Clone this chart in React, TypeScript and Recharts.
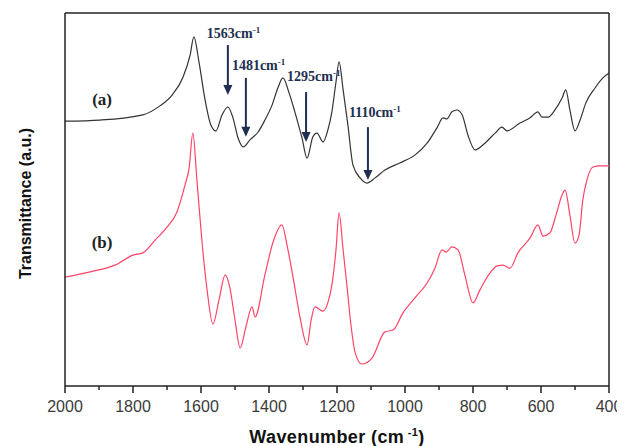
import React from 'react';
import { LineChart, Line, XAxis, YAxis, ReferenceLine, ReferenceDot, Label } from 'recharts';

// Curve (a) — black
const WN_A = [2000,1897,1771,1721,1685,1653,1632,1621,1606,1588,1571,1556,1538,1521,1506,1491,1476,1456,1432,1412,1391,1374,1359,1341,1324,1303,1288,1271,1259,1241,1227,1215,1203,1194,1182,1168,1153,1132,1112,1088,1059,1015,971,935,906,888,877,862,847,832,815,794,765,735,715,700,662,632,609,597,579,559,538,527,515,500,485,468,441,418,400];
const T_A = [71.0,71.3,72.7,75.1,78.0,82.8,88.7,93.6,86.9,76.7,70.0,68.4,72.7,74.8,71.9,66.5,64.1,66.0,68.1,71.3,75.3,79.9,82.6,78.6,73.5,66.5,61.1,66.8,67.8,65.4,68.6,73.5,81.5,86.9,79.4,70.0,59.2,55.8,54.4,55.8,57.9,59.8,61.9,65.1,69.2,71.9,71.6,73.5,74.0,72.7,67.3,63.3,65.1,67.8,69.4,68.4,70.5,71.9,73.5,72.1,72.1,74.0,77.2,79.4,74.0,68.4,71.3,75.9,79.9,82.6,83.9];

// Curve (b) — red
const WN_B = [2000,1926,1853,1800,1771,1735,1700,1671,1647,1635,1624,1612,1597,1582,1565,1547,1529,1515,1500,1485,1468,1450,1441,1412,1388,1362,1347,1329,1309,1288,1276,1265,1241,1227,1215,1203,1194,1182,1171,1159,1147,1127,1097,1059,1035,1006,971,935,912,891,879,862,844,824,800,780,750,729,712,691,668,632,609,594,574,556,538,529,515,500,488,477,465,447,427,400];
const T_B = [29.2,30.6,32.4,35.1,35.7,39.1,42.6,46.6,53.9,58.4,67.8,55.2,38.6,25.7,16.6,23.1,29.8,26.3,17.7,10.2,15.8,21.2,18.5,29.8,38.6,43.2,37.8,29.0,18.5,11.0,17.7,21.2,20.1,22.3,27.1,36.5,46.4,36.5,27.1,16.4,9.1,5.9,7.5,14.5,15.0,19.6,23.6,27.6,31.6,36.5,35.9,37.3,36.5,29.8,22.3,25.7,30.3,32.2,32.4,31.6,35.7,39.7,43.2,40.2,41.0,45.8,51.2,52.5,45.8,38.3,40.5,49.9,55.2,58.7,59.0,59.0];

const X_TICKS = [2000,1900,1800,1700,1600,1500,1400,1300,1200,1100,1000,900,800,700,600,500,400];

// Annotations (arrow x in wavenumber, arrow top / tip in a.u.)
const ANNOT_TEXT = ['1563', '1481', '1295', '1110'];
const ANNOT_WN = [1521, 1468, 1291, 1109];
const ANNOT_TOP = [91.4, 82.6, 78.8, 69.4];
const ANNOT_TIP = [78.0, 66.8, 65.4, 55.2];

const SERIES_LABELS = ['(a)', '(b)'];
const SERIES_LABEL_WN = [1891, 1891];
const SERIES_LABEL_T = [76.7, 38.6];

// style-only offsets for annotation text
const ANNOT_DX = [-21, -14, -19, -19];
const ANNOT_DY = [-7, -8, -11, -10];

const dataA = WN_A.map((wn, i) => ({ wn, t: T_A[i] }));
const dataB = WN_B.map((wn, i) => ({ wn, t: T_B[i] }));

const NAVY = '#1e2f50';
const FRAME = '#222';

const XTick = (props: any) => {
  const { x, y, payload } = props;
  const v = payload.value;
  const major = v % 200 === 0;
  return (
    <g>
      <line x1={x} y1={y} x2={x} y2={y + (major ? 7 : 4)} stroke={FRAME} strokeWidth={1.5} />
      {major && (
        <text x={x} y={y + 26} textAnchor="middle" fontFamily="'Liberation Sans', Arial, sans-serif" fontSize={16} fill="#3a3a3a">
          {v}
        </text>
      )}
    </g>
  );
};

const makeArrow = (i: number) => (p: any) => {
  const x = p.x1;
  const top = Math.min(p.y1, p.y2);
  const tip = Math.max(p.y1, p.y2);
  return (
    <g>
      <line x1={x} y1={top} x2={x} y2={tip - 8} stroke={NAVY} strokeWidth={2} />
      <polygon points={`${x - 4.5},${tip - 10} ${x + 4.5},${tip - 10} ${x},${tip}`} fill={NAVY} />
      <text x={x + ANNOT_DX[i]} y={top + ANNOT_DY[i]} fontFamily="'Liberation Serif', 'Times New Roman', serif" fontWeight="bold" fontSize={14} fill={NAVY}>
        {ANNOT_TEXT[i]}cm
        <tspan dy={-5} fontSize={9}>-1</tspan>
      </text>
    </g>
  );
};

const makeSeriesLabel = (i: number) => (p: any) => (
  <text x={p.cx} y={p.cy} textAnchor="middle" dominantBaseline="central" fontFamily="'Liberation Serif', 'Times New Roman', serif" fontWeight="bold" fontSize={17} fill="#222">
    {SERIES_LABELS[i]}
  </text>
);

const XTitle = (props: any) => {
  const vb = props.viewBox || {};
  const cx = vb.x + vb.width / 2;
  return (
    <text x={cx} y={vb.y + 57} textAnchor="middle" fontFamily="'Liberation Sans', Arial, sans-serif" fontWeight="bold" fontSize={18} fill="#111" letterSpacing={0.4}>
      Wavenumber (cm
      <tspan dy={-7} fontSize={11}> -1</tspan>
      <tspan dy={7} fontSize={18}>)</tspan>
    </text>
  );
};

const YTitle = (props: any) => {
  const vb = props.viewBox || {};
  const cx = 17;
  const cy = vb.y + vb.height / 2 + 4;
  return (
    <text x={cx} y={cy} transform={`rotate(-90, ${cx}, ${cy})`} textAnchor="middle" dominantBaseline="central" fontFamily="'Liberation Sans', Arial, sans-serif" fontWeight="bold" fontSize={16} fill="#111">
      Transmittance (a.u.)
    </text>
  );
};

export default function App() {
  return (
    <LineChart width={617} height={440} margin={{ top: 5, right: 16, bottom: 0, left: 7 }}>
      <XAxis
        dataKey="wn"
        type="number"
        domain={[400, 2000]}
        reversed
        ticks={X_TICKS}
        interval={0}
        tick={<XTick />}
        tickLine={false}
        tickSize={0}
        tickMargin={0}
        height={62}
        axisLine={{ stroke: FRAME, strokeWidth: 1.5 }}
        allowDataOverflow
      >
        <Label content={<XTitle />} />
      </XAxis>
      <YAxis
        type="number"
        domain={[0, 100]}
        tick={false}
        tickLine={false}
        width={50}
        axisLine={{ stroke: FRAME, strokeWidth: 1.5 }}
        allowDataOverflow
      >
        <Label content={<YTitle />} />
      </YAxis>
      <ReferenceLine y={100} stroke={FRAME} strokeWidth={1.5} />
      <ReferenceLine x={400} stroke={FRAME} strokeWidth={1.5} />
      <Line data={dataA} dataKey="t" type="monotone" stroke="#333" strokeWidth={1.2} dot={false} isAnimationActive={false} />
      <Line data={dataB} dataKey="t" type="monotone" stroke="#ff4466" strokeWidth={1.2} dot={false} isAnimationActive={false} />
      {ANNOT_WN.map((wn, i) => (
        <ReferenceLine
          key={'ar' + i}
          segment={[{ x: wn, y: ANNOT_TOP[i] }, { x: wn, y: ANNOT_TIP[i] }]}
          shape={makeArrow(i)}
        />
      ))}
      {SERIES_LABELS.map((s, i) => (
        <ReferenceDot key={'sl' + i} x={SERIES_LABEL_WN[i]} y={SERIES_LABEL_T[i]} r={0} shape={makeSeriesLabel(i)} />
      ))}
    </LineChart>
  );
}
